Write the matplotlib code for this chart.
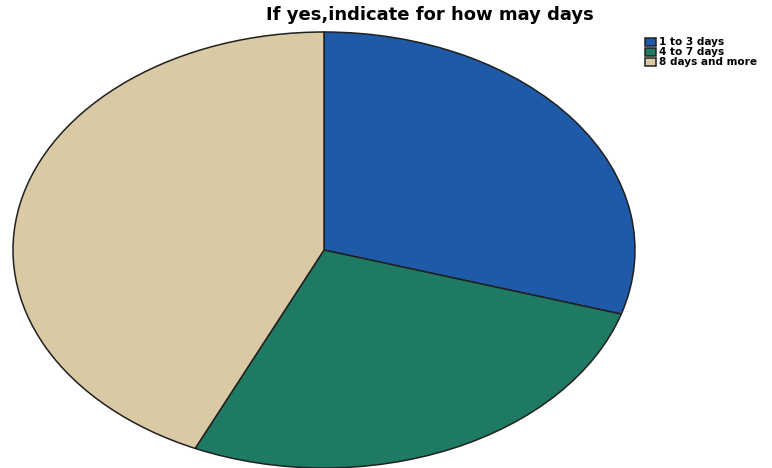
import matplotlib
matplotlib.use("Agg")
import matplotlib.pyplot as plt

categories = ["1 to 3 days", "4 to 7 days", "8 days and more"]
values = [29.75, 27.05, 43.2]
colors = ["#1e5aa7", "#1f7a63", "#d9c9a4"]
title = "If yes,indicate for how may days"

W, H = 772, 468
fig = plt.figure(figsize=(W/100, H/100), dpi=100)
# ellipse centre (324, 250) px, rx 311, ry 218
cx, cy, rx, ry = 324, 250, 311, 218
ax = fig.add_axes([(cx-rx)/W, (H-cy-ry)/H, 2*rx/W, 2*ry/H])
wedges, _ = ax.pie(values, colors=colors, startangle=90, counterclock=False,
                   wedgeprops=dict(edgecolor="#202020", linewidth=1.1))
ax.set_aspect("auto")
ax.set_xlim(-1.0, 1.0)
ax.set_ylim(-1.0, 1.0)
ax.axis("off")

fig.text(430/W, 1 - 15/H, title, ha="center", va="center",
         fontsize=13, fontweight="bold", family="DejaVu Sans")

leg = fig.legend(wedges, categories, loc="upper left",
                 bbox_to_anchor=(638/W, 1 - 30/H), frameon=False,
                 prop=dict(family="DejaVu Sans", weight="bold", size=7.6),
                 handlelength=1.0, handleheight=0.8, handletextpad=0.25,
                 labelspacing=0.0, borderpad=0.2)

fig.savefig("out.png", dpi=100)
